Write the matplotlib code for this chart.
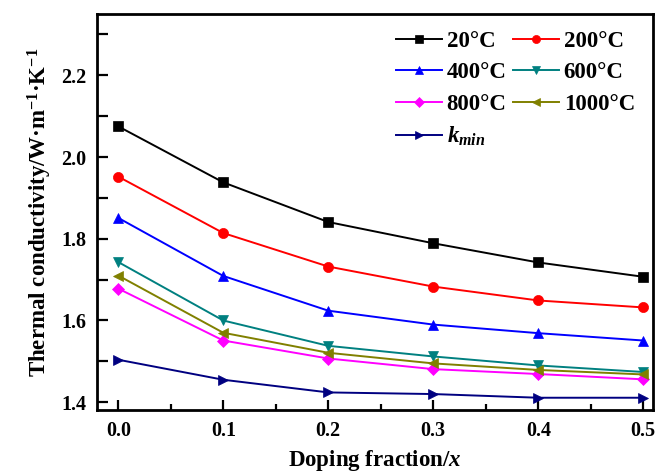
import matplotlib
matplotlib.use("Agg")
import matplotlib.pyplot as plt
from matplotlib.ticker import MultipleLocator

plt.rcParams['font.family'] = ['Liberation Serif', 'DejaVu Serif']
plt.rcParams['font.weight'] = 'bold'
plt.rcParams['mathtext.fontset'] = 'custom'
plt.rcParams['mathtext.rm'] = 'Liberation Serif:bold'
plt.rcParams['mathtext.it'] = 'Liberation Serif:italic:bold'
plt.rcParams['mathtext.bf'] = 'Liberation Serif:bold'

x = [0.0, 0.1, 0.2, 0.3, 0.4, 0.5]
labels = ['20°C', '200°C', '400°C', '600°C', '800°C', '1000°C', r'$k_{min}$']
k20 = [2.075, 1.938, 1.841, 1.789, 1.742, 1.707]
k200 = [1.952, 1.814, 1.732, 1.683, 1.649, 1.632]
k400 = [1.851, 1.709, 1.624, 1.590, 1.569, 1.551]
k600 = [1.743, 1.600, 1.538, 1.512, 1.490, 1.474]
k800 = [1.678, 1.551, 1.507, 1.481, 1.469, 1.456]
k1000 = [1.710, 1.570, 1.521, 1.495, 1.479, 1.468]
kmin = [1.504, 1.455, 1.424, 1.420, 1.411, 1.411]
series = [k20, k200, k400, k600, k800, k1000, kmin]
colors = ['#000000', '#ff0000', '#0000ff', '#008080', '#ff00ff', '#808000', '#000080']
markers = ['s', 'o', '^', 'v', 'D', '<', '>']

fig = plt.figure(figsize=(6.6, 4.73), dpi=100)
ax = fig.add_axes([0.1474, 0.1332, 0.9898 - 0.1474, 0.9704 - 0.1332])

handles = []
for ys, c, m, lab in zip(series, colors, markers, labels):
    ms = 6.5 if m == 'D' else 7.3
    h, = ax.plot(x, ys, color=c, marker=m, markersize=ms, linewidth=1.4, label=lab,
                 markeredgewidth=0.5)
    handles.append(h)

ax.set_xlim(-0.02, 0.5095)
ax.set_ylim(1.381, 2.35)
ax.xaxis.set_major_locator(MultipleLocator(0.1))
ax.xaxis.set_minor_locator(MultipleLocator(0.05))
ax.yaxis.set_major_locator(MultipleLocator(0.2))
ax.yaxis.set_minor_locator(MultipleLocator(0.1))
ax.xaxis.set_major_formatter(plt.FuncFormatter(lambda v, p: f'{v:.1f}'))
ax.yaxis.set_major_formatter(plt.FuncFormatter(lambda v, p: f'{v:.1f}'))

ax.tick_params(axis='x', which='major', direction='in', length=7, width=1.6,
               labelsize=14.5, pad=8, top=False)
ax.tick_params(axis='x', which='minor', direction='in', length=4, width=1.6, top=False)
ax.tick_params(axis='y', which='major', direction='in', length=8, width=1.6,
               labelsize=14.5, pad=8, right=False)
ax.tick_params(axis='y', which='minor', direction='in', length=8, width=1.6, right=False)
for lab in ax.get_xticklabels() + ax.get_yticklabels():
    lab.set_fontweight('bold')
for sp in ax.spines.values():
    sp.set_linewidth(2.0)

ax.set_xlabel('Doping fraction/$\\it{x}$', fontsize=16.5, fontweight='bold', labelpad=5)
ax.set_ylabel('Thermal conductivity/W·m$^{\\mathregular{-1}}$·K$^{\\mathregular{-1}}$',
              fontsize=16.5, fontweight='bold', labelpad=5)

order = [0, 2, 4, 6, 1, 3, 5]
leg = ax.legend([handles[i] for i in order],
                [labels[i] for i in order],
                ncol=2, frameon=False, loc='upper left',
                bbox_to_anchor=(0.521, 0.98), fontsize=16.5,
                handlelength=2.0, handletextpad=0.2, columnspacing=0.3,
                labelspacing=0.45, borderaxespad=0.0, markerscale=0.8)
for t in leg.get_texts():
    t.set_fontweight('bold')

fig.savefig('out.png', dpi=100)
